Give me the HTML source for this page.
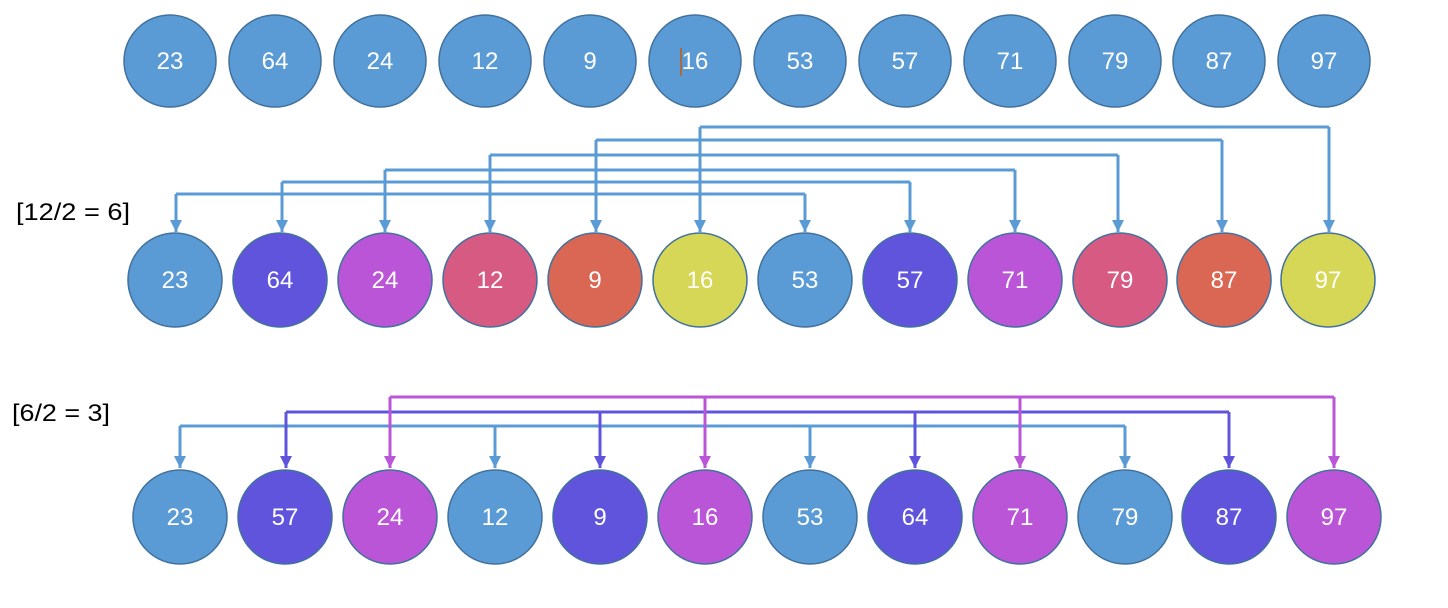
<!DOCTYPE html>
<html><head><style>body{margin:0;background:#fff}svg{display:block}</style></head>
<body>
<svg width="1448" height="608" viewBox="0 0 1448 608" xmlns="http://www.w3.org/2000/svg" font-family="Liberation Sans, sans-serif">
<defs>
<marker id="ab" viewBox="0 0 10 10" refX="10" refY="5" markerWidth="4" markerHeight="4" orient="auto" markerUnits="strokeWidth"><path d="M0,0L10,5L0,10z" fill="#5b9bd5"/></marker>
<marker id="ap" viewBox="0 0 10 10" refX="10" refY="5" markerWidth="4" markerHeight="4" orient="auto" markerUnits="strokeWidth"><path d="M0,0L10,5L0,10z" fill="#6054dc"/></marker>
<marker id="am" viewBox="0 0 10 10" refX="10" refY="5" markerWidth="4" markerHeight="4" orient="auto" markerUnits="strokeWidth"><path d="M0,0L10,5L0,10z" fill="#bb55d8"/></marker>
</defs>
<g stroke="#41719c" stroke-width="1.5">
<g fill="#5b9bd5">
<circle cx="170" cy="61" r="46"/><circle cx="275" cy="61" r="46"/><circle cx="380" cy="61" r="46"/><circle cx="485" cy="61" r="46"/><circle cx="590" cy="61" r="46"/><circle cx="695" cy="61" r="46"/><circle cx="800" cy="61" r="46"/><circle cx="905" cy="61" r="46"/><circle cx="1010" cy="61" r="46"/><circle cx="1115" cy="61" r="46"/><circle cx="1219" cy="61" r="46"/><circle cx="1324" cy="61" r="46"/>
</g>
<circle cx="175" cy="280" r="47" fill="#5b9bd5"/><circle cx="280" cy="280" r="47" fill="#6054dc"/><circle cx="385" cy="280" r="47" fill="#bb55d8"/><circle cx="490" cy="280" r="47" fill="#d75a83"/><circle cx="595" cy="280" r="47" fill="#da6753"/><circle cx="700" cy="280" r="47" fill="#d6d756"/><circle cx="805" cy="280" r="47" fill="#5b9bd5"/><circle cx="910" cy="280" r="47" fill="#6054dc"/><circle cx="1015" cy="280" r="47" fill="#bb55d8"/><circle cx="1120" cy="280" r="47" fill="#d75a83"/><circle cx="1224" cy="280" r="47" fill="#da6753"/><circle cx="1328" cy="280" r="47" fill="#d6d756"/>
<circle cx="180" cy="517" r="47" fill="#5b9bd5"/><circle cx="285" cy="517" r="47" fill="#6054dc"/><circle cx="390" cy="517" r="47" fill="#bb55d8"/><circle cx="495" cy="517" r="47" fill="#5b9bd5"/><circle cx="600" cy="517" r="47" fill="#6054dc"/><circle cx="705" cy="517" r="47" fill="#bb55d8"/><circle cx="810" cy="517" r="47" fill="#5b9bd5"/><circle cx="915" cy="517" r="47" fill="#6054dc"/><circle cx="1020" cy="517" r="47" fill="#bb55d8"/><circle cx="1125" cy="517" r="47" fill="#5b9bd5"/><circle cx="1229" cy="517" r="47" fill="#6054dc"/><circle cx="1334" cy="517" r="47" fill="#bb55d8"/>
</g>
<line x1="681" y1="48" x2="681" y2="76" stroke="#c55a11" stroke-width="1.5"/>
<g fill="none" stroke="#5b9bd5" stroke-width="3" marker-end="url(#ab)">
<path d="M700,127H1329"  marker-end="none"/>
<path d="M596,140H1222" marker-end="none"/>
<path d="M490,155H1118" marker-end="none"/>
<path d="M385,170H1015" marker-end="none"/>
<path d="M282,182H910" marker-end="none"/>
<path d="M176,194H805" marker-end="none"/>
<path d="M700,127V232"/><path d="M1329,127V232"/>
<path d="M596,140V232"/><path d="M1222,140V232"/>
<path d="M490,155V232"/><path d="M1118,155V232"/>
<path d="M385,170V232"/><path d="M1015,170V232"/>
<path d="M282,182V232"/><path d="M910,182V232"/>
<path d="M176,194V232"/><path d="M805,194V232"/>
<path d="M180,426H1125" marker-end="none"/>
<path d="M180,426V468"/><path d="M495,426V468"/><path d="M810,426V468"/><path d="M1125,426V468"/>
</g>
<g fill="none" stroke="#6054dc" stroke-width="3" marker-end="url(#ap)">
<path d="M286,412H1229" marker-end="none"/>
<path d="M286,412V468"/><path d="M600,412V468"/><path d="M915,412V468"/><path d="M1229,412V468"/>
</g>
<g fill="none" stroke="#bb55d8" stroke-width="3" marker-end="url(#am)">
<path d="M390,397H1334" marker-end="none"/>
<path d="M390,397V468"/><path d="M705,397V468"/><path d="M1020,397V468"/><path d="M1334,397V468"/>
</g>
<g fill="#fff" font-size="24" text-anchor="middle">
<text x="170" y="69">23</text><text x="275" y="69">64</text><text x="380" y="69">24</text><text x="485" y="69">12</text><text x="590" y="69">9</text><text x="695" y="69">16</text><text x="800" y="69">53</text><text x="905" y="69">57</text><text x="1010" y="69">71</text><text x="1115" y="69">79</text><text x="1219" y="69">87</text><text x="1324" y="69">97</text>
<text x="175" y="288">23</text><text x="280" y="288">64</text><text x="385" y="288">24</text><text x="490" y="288">12</text><text x="595" y="288">9</text><text x="700" y="288">16</text><text x="805" y="288">53</text><text x="910" y="288">57</text><text x="1015" y="288">71</text><text x="1120" y="288">79</text><text x="1224" y="288">87</text><text x="1328" y="288">97</text>
<text x="180" y="525">23</text><text x="285" y="525">57</text><text x="390" y="525">24</text><text x="495" y="525">12</text><text x="600" y="525">9</text><text x="705" y="525">16</text><text x="810" y="525">53</text><text x="915" y="525">64</text><text x="1020" y="525">71</text><text x="1125" y="525">79</text><text x="1229" y="525">87</text><text x="1334" y="525">97</text>
</g>
<g fill="#000" font-size="24">
<text x="16" y="220" textLength="114" lengthAdjust="spacingAndGlyphs">[12/2 = 6]</text>
<text x="12" y="421" textLength="98" lengthAdjust="spacingAndGlyphs">[6/2 = 3]</text>
</g>
</svg>
</body></html>
